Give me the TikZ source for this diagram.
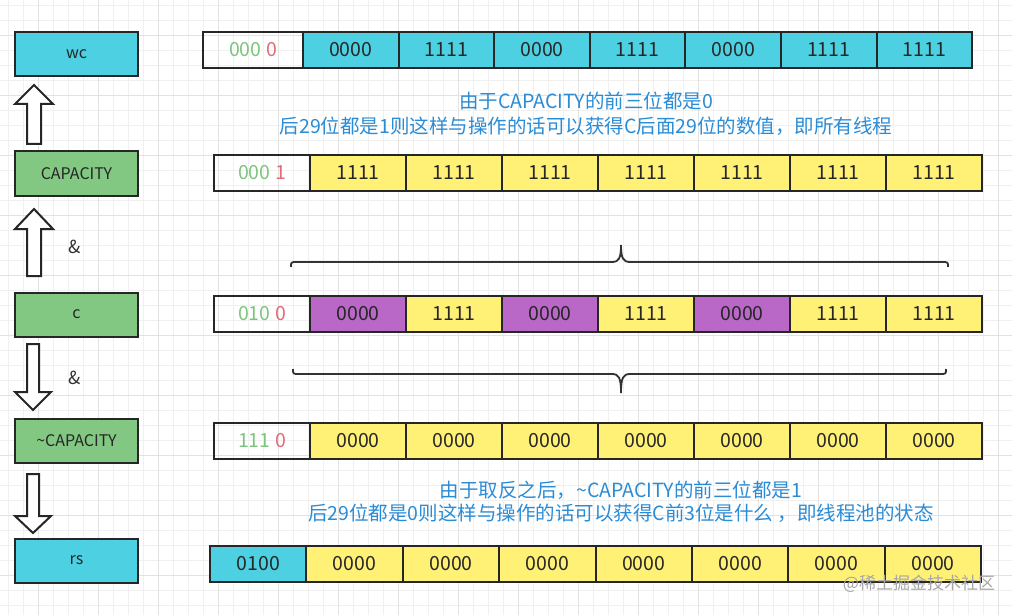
\documentclass[tikz,border=0pt]{standalone}
\usepackage{fontspec}
\setmainfont{Noto Sans CJK SC}
\usetikzlibrary{positioning}
\definecolor{wccyan}{RGB}{77,208,225}
\definecolor{capgreen}{RGB}{130,200,130}
\definecolor{bityellow}{RGB}{255,241,118}
\definecolor{bitpurple}{RGB}{186,104,200}
\definecolor{hibits}{RGB}{125,196,125}
\definecolor{lobits}{RGB}{226,107,118}
\definecolor{noteblue}{RGB}{43,140,214}
\definecolor{gridminor}{RGB}{240,240,240}
\definecolor{gridmajor}{RGB}{226,226,226}

\begin{document}
\begin{tikzpicture}[x=1pt, y=-1pt,
	every path/.style={line width=2pt},
	namebox/.style={draw=black!85, minimum width=123pt, minimum height=44pt,
				inner sep=0, text=black!85, font=\fontsize{16}{19}\selectfont},
	bit/.style={draw=black!85, minimum width=96pt, minimum height=36pt,
				inner sep=0, anchor=west, text=black!85,
				font=\fontsize{19.5}{22}\selectfont},
	blockarrow/.style={draw=black!85, fill=white, line join=miter},
	bracepath/.style={draw=black!80, line width=1.8pt},
	note/.style={text=noteblue, font=\fontsize{19.5}{23}\selectfont}]
	\useasboundingbox (0,0) rectangle (1012,615);
	\fill[white] (0,0) rectangle (1012,615);
	% grid
	\foreach \gx in {8,23,...,1012}
		\draw[gridminor, line width=0.7pt] (\gx,0) -- (\gx,615);
	\foreach \gy in {5,20,...,615}
		\draw[gridminor, line width=0.7pt] (0,\gy) -- (1012,\gy);
	\foreach \gx in {38,98,...,1012}
		\draw[gridmajor, line width=0.8pt] (\gx,0) -- (\gx,615);
	\foreach \gy in {35,95,...,615}
		\draw[gridmajor, line width=0.8pt] (0,\gy) -- (1012,\gy);

	% left column
	\node[namebox, fill=wccyan] (wc) at (76.5,54) {wc};
	\node[namebox, fill=capgreen] (cap) at (76.5,173.5) {CAPACITY};
	\node[namebox, fill=capgreen] (c) at (76.5,314.5) {c};
	\node[namebox, fill=capgreen] (ncap) at (76.5,441) {\textasciitilde CAPACITY};
	\node[namebox, fill=wccyan] (rs) at (76.5,560.5) {rs};

	\draw[blockarrow] (27,144) -- (27,104) -- (15,104) -- (34,85) -- (53,104)
		-- (41,104) -- (41,144) -- cycle;
	\draw[blockarrow] (27,276) -- (27,229) -- (15,229) -- (34,209) -- (53,229)
		-- (41,229) -- (41,276) -- cycle;
	\draw[blockarrow] (27,344) -- (27,392) -- (15,392) -- (33,410) -- (51,392)
		-- (39,392) -- (39,344) -- cycle;
	\draw[blockarrow] (27,474) -- (27,516) -- (15,516) -- (33,533) -- (51,516)
		-- (39,516) -- (39,474) -- cycle;
	\node[font=\fontsize{18}{20}\selectfont, text=black!80] (and1) at (75,247) {\&};
	\node[font=\fontsize{18}{20}\selectfont, text=black!80] (and2) at (75,378) {\&};

	% wc row
	\node[bit, minimum width=100pt] (wc0) at (202,50)
		{\textcolor{hibits}{000} \textcolor{lobits}{0}};
	\foreach \v [count=\i] in {0000,1111,0000,1111,0000,1111,1111}
		\node[bit, fill=wccyan, minimum width=95.6pt] (wc\i) at ({206.4+95.6*\i},50) {\v};

	\node[note] (note1) at (586,101) {由于CAPACITY的前三位都是0};
	\node[note] (note2) at (586,126) {后29位都是1则这样与操作的话可以获得C后面29位的数值，即所有线程};

	% CAPACITY row
	\node[bit] (cap0) at (213,173)
		{\textcolor{hibits}{000} \textcolor{lobits}{1}};
	\foreach \i in {1,...,7}
		\node[bit, fill=bityellow] (cap\i) at ({213+96*\i},173) {1111};

	\draw[bracepath] (291,267) .. controls (291,262) .. (297,262) -- (612,262)
		.. controls (619,262) and (621,258) .. (621,245)
		.. controls (621,258) and (623,262) .. (630,262) -- (942,262)
		.. controls (948,262) .. (948,267);

	% c row
	\node[bit] (c0) at (213,314)
		{\textcolor{hibits}{010} \textcolor{lobits}{0}};
	\foreach \v/\col [count=\i] in {0000/bitpurple,1111/bityellow,0000/bitpurple,
			1111/bityellow,0000/bitpurple,1111/bityellow,1111/bityellow}
		\node[bit, fill=\col] (c\i) at ({213+96*\i},314) {\v};

	\draw[bracepath] (293,369) .. controls (293,374) .. (299,374) -- (612,374)
		.. controls (619,374) and (621,378) .. (621,393)
		.. controls (621,378) and (623,374) .. (630,374) -- (940,374)
		.. controls (946,374) .. (946,369);

	% ~CAPACITY row
	\node[bit] (ncap0) at (213,440.5)
		{\textcolor{hibits}{111} \textcolor{lobits}{0}};
	\foreach \i in {1,...,7}
		\node[bit, fill=bityellow] (ncap\i) at ({213+96*\i},440.5) {0000};

	\node[note] (note3) at (621,490) {由于取反之后，\textasciitilde CAPACITY的前三位都是1};
	\node[note] (note4) at (621,513) {后29位都是0则这样与操作的话可以获得C前3位是什么 ，即线程池的状态};

	% rs row
	\node[bit, fill=wccyan, minimum width=96.4pt] (rs0) at (209,564) {0100};
	\foreach \i in {1,...,7}
		\node[bit, fill=bityellow, minimum width=96.4pt] (rs\i) at ({209+96.4*\i},564) {0000};

	\node[text=black!35, font=\fontsize{17}{20}\selectfont] (mark) at (919,584) {@稀土掘金技术社区};
\end{tikzpicture}
\end{document}
